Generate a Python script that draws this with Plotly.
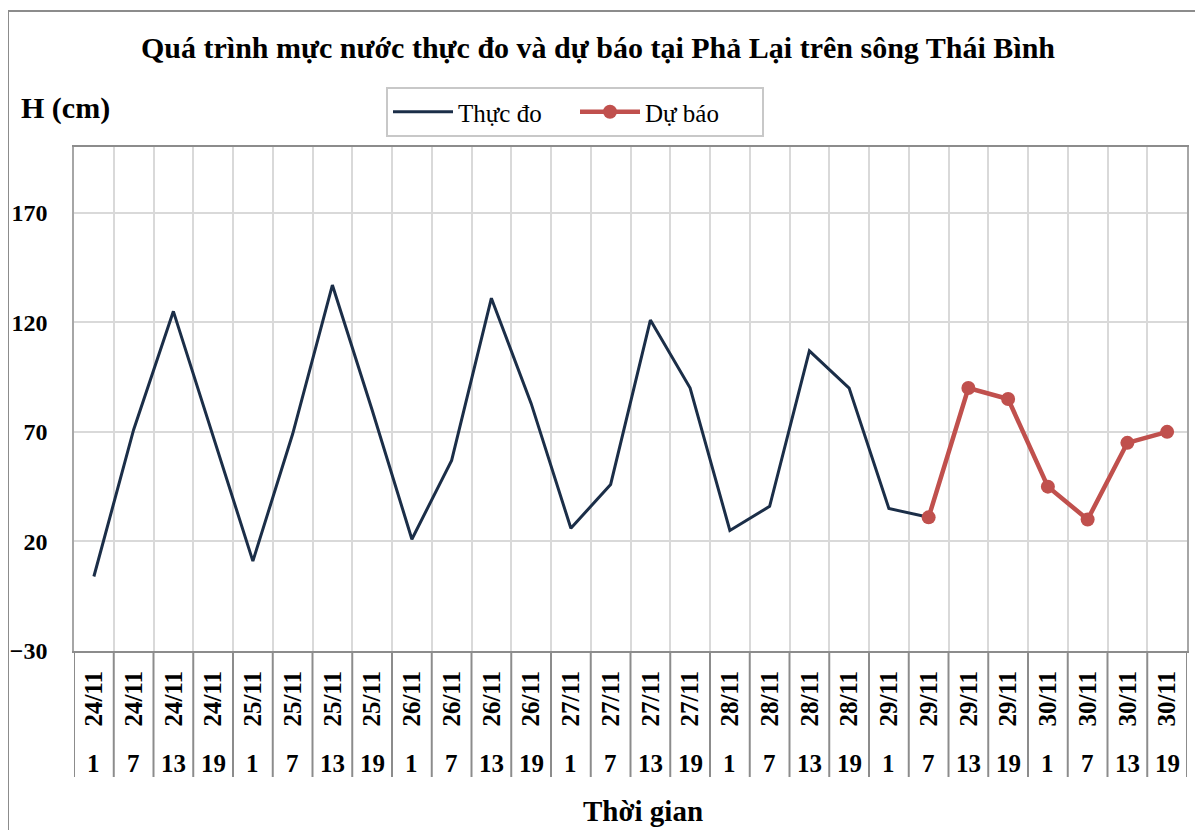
import plotly.graph_objects as go

days = ["24/11", "25/11", "26/11", "27/11", "28/11", "29/11", "30/11"]
hours = ["1", "7", "13", "19"]
date_labels = [d for d in days for h in hours]
hour_labels = [h for d in days for h in hours]
categories = [f"{d} {h}" for d, h in zip(date_labels, hour_labels)]

observed = [4, 71, 125, 68, 11, 69, 137, 80, 21, 57, 131, 83, 26, 46, 121, 90,
            25, 36, 107, 90, 35, 31, None, None, None, None, None, None]
forecast = [None] * 21 + [31, 90, 85, 45, 30, 65, 70]

title_text = "Quá trình mực nước thực đo và dự báo tại Phả Lại trên sông Thái Bình"
y_title = "H (cm)"
x_title = "Thời gian"

# page has an 8px body margin; work in reference-page pixel coordinates
OFF = 8
W, H = 1203 - OFF, 830 - OFF
PL, PR, PT, PB = 74, 1187, 147, 651          # plot area in page pixels
L, T = PL - OFF, PT - OFF
R, B = W - (PR - OFF), H - (PB - OFF)
pw, ph = PR - PL, PB - PT

def px(xp):
    return (xp - PL) / pw

def py(yp):
    return (PB - yp) / ph

SERIF = "Liberation Serif, Times New Roman, serif"

fig = go.Figure()
fig.add_trace(go.Scatter(x=categories, y=observed, mode="lines", name="Thực đo",
                         line=dict(color="#1B2E48", width=3)))
fig.add_trace(go.Scatter(x=categories, y=forecast, mode="lines+markers", name="Dự báo",
                         line=dict(color="#C0504D", width=4.5),
                         marker=dict(color="#C0504D", size=14)))

shapes = []
for i in range(len(categories) + 1):
    shapes.append(dict(type="line", xref="x", yref="paper", x0=i - 0.5, x1=i - 0.5,
                       y0=0, y1=py(777), line=dict(color="#8C8C8C", width=2)))
shapes.append(dict(type="rect", xref="paper", yref="paper", x0=px(8), x1=px(1240),
                   y0=py(11), y1=py(880), line=dict(color="#8C8C8C", width=2),
                   fillcolor="rgba(0,0,0,0)", layer="below"))

annotations = []
for c, h in zip(categories, hour_labels):
    annotations.append(dict(x=c, xref="x", y=py(763), yref="paper", text=h,
                            showarrow=False, xanchor="center", yanchor="middle",
                            font=dict(family=SERIF, size=25, color="black", weight="bold")))
annotations.append(dict(x=px(19), xref="paper", y=py(108), yref="paper", text=y_title,
                        showarrow=False, xanchor="left", yanchor="middle",
                        font=dict(family=SERIF, size=30, color="black", weight="bold")))
annotations.append(dict(x=px(643), xref="paper", y=py(811), yref="paper", text=x_title,
                        showarrow=False, xanchor="center", yanchor="middle",
                        font=dict(family=SERIF, size=29, color="black", weight="bold")))

fig.update_layout(
    width=W, height=H,
    margin=dict(l=L, r=R, t=T, b=B, autoexpand=False),
    paper_bgcolor="white", plot_bgcolor="white",
    title=dict(text=title_text, x=(598 - OFF) / W, xanchor="center",
               y=1 - (47 - OFF) / H, yanchor="middle",
               font=dict(family=SERIF, size=30, color="black", weight="bold")),
    legend=dict(orientation="h", x=px(386), xanchor="left", y=py(87), yanchor="top",
                bordercolor="#C8C8C8", borderwidth=2, bgcolor="white",
                font=dict(family=SERIF, size=25, color="black"),
                itemwidth=60, entrywidth=112, entrywidthmode="pixels", tracegroupgap=0),
    shapes=shapes,
    annotations=annotations,
    showlegend=True,
)
fig.update_xaxes(type="category", categoryorder="array", categoryarray=categories,
                 tickmode="array", tickvals=categories, ticktext=date_labels,
                 tickangle=-90, tickson="boundaries", ticks="", automargin=False,
                 showgrid=True, gridcolor="#D9D9D9", gridwidth=1.5,
                 showline=True, linecolor="#8C8C8C", linewidth=2, mirror=True,
                 ticklabelstandoff=8,
                 tickfont=dict(family=SERIF, size=25, color="black", weight="bold"),
                 range=[-0.5, len(categories) - 0.5], fixedrange=True)
fig.update_yaxes(range=[-30, 200], tick0=-30, dtick=50, tickmode="linear", automargin=False,
                 showgrid=True, gridcolor="#D9D9D9", gridwidth=1.5,
                 showline=True, linecolor="#A6A6A6", linewidth=1.5, mirror=True,
                 zeroline=False, ticks="", ticklabelstandoff=20,
                 tickfont=dict(family=SERIF, size=24, color="black", weight="bold"))

fig.write_html("out.html")
